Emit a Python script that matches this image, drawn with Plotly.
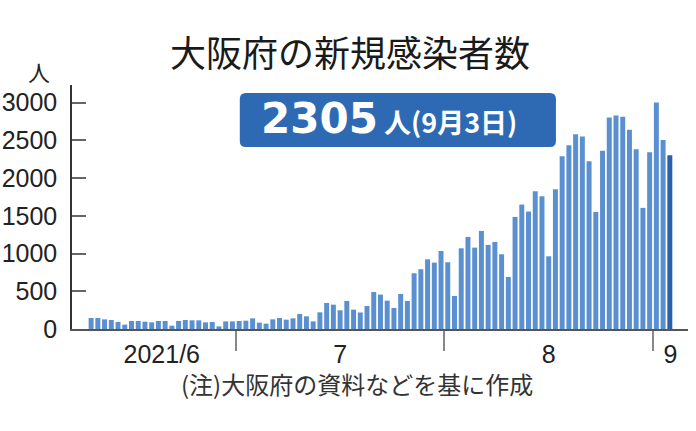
import pandas as pd
import plotly.graph_objects as go

# daily new cases, Osaka, 2021-06-09 .. 2021-09-03
days = pd.date_range("2021-06-09", "2021-09-03", freq="D")
cases = [
    146, 146, 128, 119, 93, 58, 106, 106, 97, 88, 106, 106, 44, 106, 119, 115,
    115, 88, 93, 35, 101, 101,
    106, 110, 141, 84, 71, 128, 146, 124, 141, 199, 168, 101, 221, 345, 323,
    248, 372, 257, 219, 305, 491, 456, 376, 279, 464, 372, 739, 792, 924, 880,
    1035,
    885, 438, 1070, 1221, 1079, 1300, 1115, 1154, 991, 690, 1486, 1650, 1557,
    1827, 1760, 964, 1853, 2291, 2437, 2583, 2552, 2225, 1552, 2362, 2804, 2831,
    2813, 2641, 2384, 1606, 2344, 3004,
    2506, 2305,
]
month_labels = ["2021/6", "7", "8", "9"]
y_ticks = [0, 500, 1000, 1500, 2000, 2500, 3000]

idx = list(range(len(days)))
X0, X1 = -2.84, 88.7

# month boundaries (between last day of a month and the 1st of the next)
bounds = [i - 0.5 for i, d in enumerate(days) if d.day == 1]
edges = [-0.5] + bounds + [X1]
label_pos = [(a + b) / 2 for a, b in zip(edges[:-1], edges[1:])]

colors = ["#5b90d0"] * (len(cases) - 1) + ["#2a5fa9"]

fig = go.Figure()
fig.add_trace(go.Bar(x=idx, y=cases, marker_color=colors, marker_line_width=0,
                     width=0.74, hoverinfo="skip"))
fig.add_trace(go.Scatter(x=[], y=[], xaxis="x2", showlegend=False))

tick_font = dict(family="Liberation Sans, Arial, sans-serif", size=25, color="#222")

PW, PH = 615.7, 243.7
fig.update_layout(
    width=696, height=431,
    margin=dict(l=72.3, r=8, t=85, b=431 - 85 - PH, autoexpand=False),
    paper_bgcolor="white", plot_bgcolor="white",
    showlegend=False,
    title=dict(text="大阪府の新規感染者数", x=350 / 696, y=1 - 54 / 431,
               xanchor="center", yanchor="middle",
               font=dict(family="Noto Sans CJK JP", size=36, color="#1a1a1a")),
    xaxis=dict(range=[X0, X1], showline=True, linecolor="#555", linewidth=1.5,
               ticks="outside", tickvals=bounds, ticklen=20, tickwidth=1.5,
               tickcolor="#888", showticklabels=False, showgrid=False,
               zeroline=False, automargin=False),
    xaxis2=dict(range=[X0, X1], overlaying="x", anchor="y", side="bottom",
                tickvals=label_pos, ticktext=month_labels, ticks="",
                showline=False, showgrid=False, zeroline=False,
                tickfont=tick_font, ticklabelstandoff=8, automargin=False),
    yaxis=dict(range=[0, 3235], tickvals=y_ticks, showline=True,
               linecolor="#333", linewidth=1.5, ticks="inside", ticklen=14,
               tickwidth=1.5, tickcolor="#666", showgrid=False, zeroline=False,
               tickfont=tick_font, ticklabelstandoff=8, automargin=False),
)


def px(x):
    return (x - 72.3) / PW


def py(y):
    return (328.7 - y) / PH


# highlight box with latest value
rx, ry = 6 / PW, 6 / PH
bx0, bx1 = px(240), px(556)
by0, by1 = py(147), py(93)
path = (f"M {bx0 + rx} {by0} L {bx1 - rx} {by0} Q {bx1} {by0} {bx1} {by0 + ry} "
        f"L {bx1} {by1 - ry} Q {bx1} {by1} {bx1 - rx} {by1} "
        f"L {bx0 + rx} {by1} Q {bx0} {by1} {bx0} {by1 - ry} "
        f"L {bx0} {by0 + ry} Q {bx0} {by0} {bx0 + rx} {by0} Z")
fig.add_shape(type="path", path=path, xref="paper", yref="paper",
              fillcolor="#2e6ab4", line_width=0, layer="above")

last = cases[-1]
last_day = days[-1]
fig.add_annotation(
    x=px(259), y=py(118), xref="paper", yref="paper",
    xanchor="left", yanchor="middle", showarrow=False,
    text=(f"<b>{last}</b><span style='font-family:Noto Sans CJK JP;font-size:27px'>"
          f"<b> 人({last_day.month}月{last_day.day}日)</b></span>"),
    font=dict(family="DejaVu Sans", size=42, color="white"),
)

fig.add_annotation(x=px(39), y=py(71), xref="paper", yref="paper",
                   xanchor="center", yanchor="middle", showarrow=False,
                   text="人", font=dict(family="Noto Sans CJK JP", size=22, color="#222"))

fig.add_annotation(x=px(357), y=py(383), xref="paper", yref="paper",
                   xanchor="center", yanchor="middle", showarrow=False,
                   text="(注)大阪府の資料などを基に作成",
                   font=dict(family="Noto Sans CJK JP", size=24, color="#333"))

# drop the browser's default body margin so the figure sits at the page corner
fig.write_html("out.html", config={"displayModeBar": False},
               post_script="document.body.style.margin='0';")
